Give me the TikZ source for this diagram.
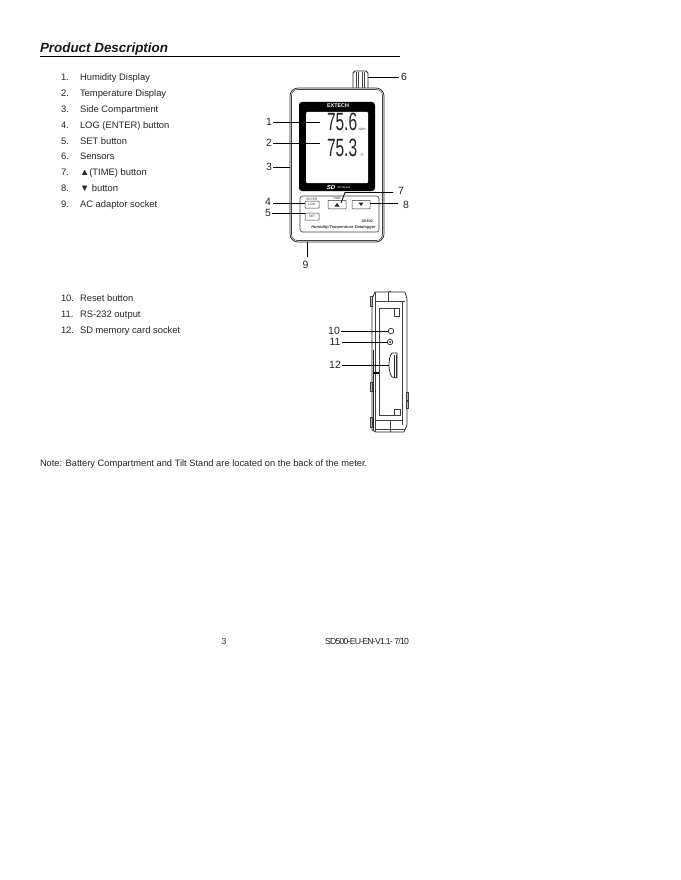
\documentclass[tikz,border=0pt]{standalone}
\usepackage{fontspec}
\setmainfont{Liberation Sans}
\newfontfamily\tightf[LetterSpace=-9]{Liberation Sans}
\tikzset{
 x=1pt,y=-1pt,
 every node/.style={inner sep=0pt,outer sep=0pt},
 listitem/.style={anchor=base west,font=\fontsize{9.4}{11}\selectfont,text=black!85},
 callout/.style={font=\fontsize{10.5}{12}\selectfont,text=black!85},
 leader/.style={draw=black,line width=0.8pt},
 lcd/.style={font=\fontsize{25}{26}\selectfont,xscale=.62,text=black!85,anchor=base west},
 tiny/.style={font=\fontsize{3.2}{4}\selectfont,text=black!80},
 bodyline/.style={draw=black!85,line width=0.75pt},
 thinline/.style={draw=black!75,line width=0.55pt},
 btn/.style={draw=black!80,line width=0.5pt,rounded corners=0.6pt,fill=white},
}
\begin{document}
\begin{tikzpicture}
\useasboundingbox (0,0) rectangle (680,880);
\fill[white] (0,0) rectangle (680,880);
% heading
\node[anchor=base west,font=\fontsize{13.4}{16}\selectfont\bfseries\itshape,text=black!90] (title) at (40,52.6) {Product Description};
\draw[draw=black,line width=0.8pt] (40,56.5) -- (400,56.5);
% lists
\foreach \n/\t/\yy in {1./Humidity Display/80.7,2./Temperature Display/96.7,3./Side Compartment/112.7,4./LOG (ENTER) button/128.7,5./SET button/144.5,6./Sensors/159.5,7./▲(TIME) button/175.5,8./▼ button/191.5,9./AC adaptor socket/207.5,10./Reset button/301.5,11./RS-232 output/317.5,12./SD memory card socket/333.5}{
 \node[listitem] (num\n) at (61,\yy) {\n};
 \node[listitem] (txt\n) at (80,\yy) {\t};
}
% front view
\draw[bodyline,fill=white] (353,88) -- (353,73) -- (355,71) -- (366,71) -- (368,73) -- (368,88);
\foreach \xx in {356,358,362,364}{\draw[thinline] (\xx,72) -- (\xx,88);}
\draw[bodyline,rounded corners=8pt,fill=white] (290,88) rectangle (384,242);
\draw[thinline,rounded corners=6pt] (291.5,89.5) rectangle (382.5,240.5);
\fill[black,rounded corners=3pt] (299,102) rectangle (375,191);
\fill[white,rounded corners=1pt] (306,112) rectangle (368,183);
\node[font=\fontsize{5.4}{6}\selectfont\bfseries,text=white] (brand) at (338,105.5) {EXTECH};
\node[lcd] (rh) at (327,131) {75.6};
\node[lcd] (temp) at (327,156) {75.3};
\node[tiny] (rhunit) at (362,129) {\%RH};
\node[tiny] (tunit) at (362,155) {°F};
\node[font=\fontsize{6}{6}\selectfont\bfseries\itshape,text=white] (sdlogo) at (331,187) {SD};
\node[font=\fontsize{2.8}{3}\selectfont,text=white] (series) at (344,187) {SD Series};
\draw[thinline,rounded corners=2.5pt] (300,196) rectangle (379,232);
\node[btn,minimum width=14pt,minimum height=7pt,tiny] (log) at (312,204.5) {LOG};
\node[btn,minimum width=14pt,minimum height=7pt,tiny] (set) at (312,216.5) {SET};
\node[btn,minimum width=18pt,minimum height=8.5pt] (up) at (337,204.5) {};
\node[btn,minimum width=18pt,minimum height=8.5pt] (down) at (361,204.5) {};
\fill[black!85] (334.5,206.5) -- (339.5,206.5) -- (337,203) -- cycle;
\fill[black!85] (358.5,202.5) -- (363.5,202.5) -- (361,206) -- cycle;
\node[tiny] (enter) at (312,199) {ENTER};
\node[tiny] (timel) at (337,198) {TIME};
\node[font=\fontsize{3.6}{4}\selectfont\bfseries\itshape,text=black!80] (model) at (367,221) {SD500};
\node[font=\fontsize{4}{4}\selectfont\bfseries\itshape,text=black!80] (hname) at (343.5,227) {Humidity/Temperature Datalogger};
% callouts
\node[callout] (c1) at (269,122) {1};
\node[callout] (c2) at (269,143) {2};
\node[callout] (c3) at (269,167) {3};
\node[callout] (c4) at (268,201.5) {4};
\node[callout] (c5) at (268,213) {5};
\node[callout] (c6) at (404,77) {6};
\node[callout] (c7) at (401,191) {7};
\node[callout] (c8) at (406,204.5) {8};
\node[callout] (c9) at (305.5,264.5) {9};
\coordinate (t1) at (320,122);
\coordinate (t2) at (320,143);
\coordinate (t3) at (290,167);
\coordinate (t5) at (305,213);
\coordinate (t6) at (368,77);
\coordinate (t9) at (307,242);
\coordinate (e9) at (307,257);
\coordinate (s7) at (393,192.5);
\coordinate (k7) at (345,192.5);
\coordinate (t7) at (341,203);
\coordinate (s4) at (273,203);
\coordinate (s8) at (398,203);
\draw[leader] ([xshift=1.5pt]c1.east) -- (t1);
\draw[leader] ([xshift=1.5pt]c2.east) -- (t2);
\draw[leader] ([xshift=1.5pt]c3.east) -- (t3);
\draw[leader] (s4) -- (s4 -| log.west);
\draw[leader] ([xshift=1.5pt]c5.east) -- (t5);
\draw[leader] (t6) -- ([xshift=-2pt]c6.west);
\draw[leader] (s7) -- (k7) -- (t7);
\draw[leader] (s8) -- (s8 -| down.east);
\draw[leader] (t9) -- (e9);
% side view
\draw[bodyline,fill=white] (372,430) -- (372,299) -- (375,292) -- (405,292) -- (407,299) -- (407,425) -- (404,432) -- (376,432) -- (372,430);
\draw[thinline] (375,292) -- (375,432);
\draw[thinline] (375,301) -- (405,301);
\draw[thinline] (388,292) -- (388,301);
\draw[thinline] (389,291) -- (391,291);
\draw[thinline] (370,296) rectangle (372,306);
\draw[thinline] (370,382) rectangle (372,391);
\draw[thinline] (370,417) rectangle (372,427);
\draw[thinline] (406,392) rectangle (408,400);
\draw[thinline] (406,401) rectangle (408,408);
\draw[thinline] (379,308) -- (379,415) -- (400,415);
\draw[thinline] (379,308) -- (400,308);
\draw[thinline] (394,308) rectangle (399,316);
\draw[thinline] (394,409) rectangle (400,415);
\draw[thinline] (402,301) -- (402,425);
\draw[thinline] (375,420) -- (402,420);
\draw[thinline] (375,429) -- (405,429);
\draw[thinline] (390,420) -- (390,432);
\draw[line width=1pt,black!85] (373.5,350) -- (373.5,430);
\fill[black] (373,372) rectangle (379,373.5);
\node[draw=black!85,circle,line width=0.7pt,minimum size=5.5pt] (reset) at (391,331) {};
\node[draw=black!85,circle,line width=0.7pt,minimum size=5.5pt] (rs) at (390,342) {};
\fill[black!85] (rs.center) circle (1pt);
\draw[bodyline,fill=white] (392,353) .. controls (388,357) and (388,372) .. (392,377) -- (397,378) -- (397,353) -- cycle;
\fill[black!85] (394,355) rectangle (396.5,377);
\draw[white,line width=0.3pt] (395.2,355) -- (395.2,377);
\coordinate (sd) at (389,365);
\node[callout] (c10) at (334,331) {10};
\node[callout] (c11) at (335,342) {11};
\node[callout] (c12) at (335,365) {12};
\draw[leader] ([xshift=1.5pt]c10.east) -- (reset.west);
\draw[leader] ([xshift=1.5pt]c11.east) -- (rs.west);
\draw[leader] ([xshift=1.5pt]c12.east) -- (sd);
% note and footer
\node[anchor=base west,font=\fontsize{9.3}{10}\selectfont,text=black!85] (note) at (40,466) {Note: Battery Compartment and Tilt Stand are located on the back of the meter.};
\node[anchor=base,font=\fontsize{8.6}{10}\selectfont,text=black!85] (page) at (224,644.5) {3};
\node[anchor=base west,font=\fontsize{8.7}{10}\tightf,text=black!85] (docid) at (325,644.5) {SD500-EU-EN-V1.1- 7/10};
\end{tikzpicture}
\end{document}
